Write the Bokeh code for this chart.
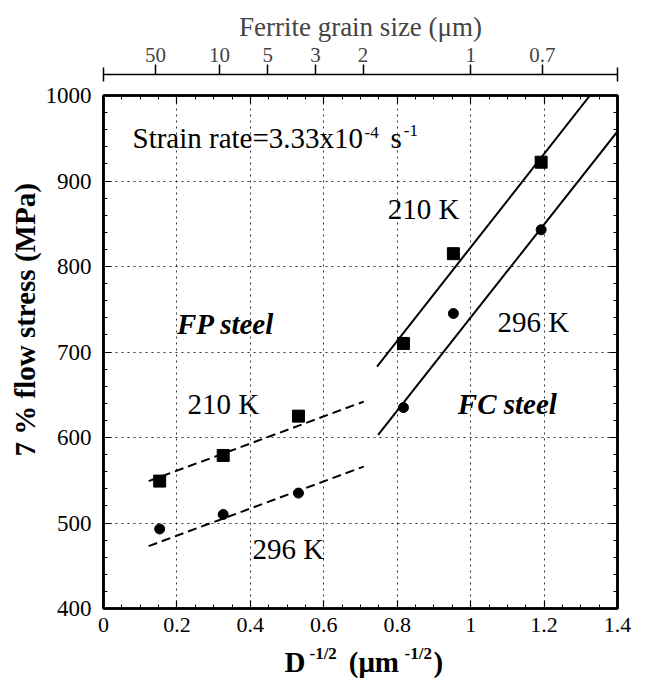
import numpy as np
from bokeh.plotting import figure
from bokeh.layouts import column
from bokeh.models import (LinearAxis, FixedTicker, Label, Range1d, Title)
from bokeh.embed import file_html
from bokeh.resources import INLINE

# ---------------- data ----------------
fp_x = [0.153, 0.326, 0.531]          # FP steel, D^-1/2
fp_210 = [549, 579, 625]               # 210 K flow stress (MPa)
fp_296 = [493, 510, 535]               # 296 K flow stress (MPa)

fc_x = [0.817, 0.953, 1.192]          # FC steel, D^-1/2
fc_210 = [710, 815, 922]
fc_296 = [635, 745, 843]

fit_fp_x = [0.123, 0.709]
fit_fp_210 = [549, 642]
fit_fp_296 = [473, 566]
fit_fc210_x = [0.745, 1.325]
fit_fc210_y = [683, 1000]
fit_fc296_x = [0.748, 1.4]
fit_fc296_y = [603, 958]

x_ticks = [0, 0.2, 0.4, 0.6, 0.8, 1.0, 1.2, 1.4]
x_tick_labels = ["0", "0.2", "0.4", "0.6", "0.8", "1", "1.2", "1.4"]
y_ticks = [400, 500, 600, 700, 800, 900, 1000]
grain_sizes = [50, 10, 5, 3, 2, 1, 0.7]
grain_labels = ["50", "10", "5", "3", "2", "1", "0.7"]

FONT = "Liberation Serif"
FW, FH = 514, 513
LEFT, RIGHT = 103, 25

xr = Range1d(0, 1.4)

# ---------------- main figure ----------------
p = figure(frame_width=FW, frame_height=FH, title=None,
           x_range=xr, y_range=Range1d(400, 1000),
           output_backend="svg", toolbar_location=None,
           x_axis_location=None, y_axis_location=None,
           min_border_left=LEFT, min_border_right=RIGHT,
           min_border_top=12, min_border_bottom=36,
           background_fill_color="white", border_fill_color="white")
p.outline_line_color = "black"
p.outline_line_width = 2.5

x_minor = [round(v, 2) for v in np.arange(0, 1.4001, 0.05)]
y_minor = list(range(400, 1001, 20))
xt = FixedTicker(ticks=x_ticks, minor_ticks=x_minor)
yt = FixedTicker(ticks=y_ticks, minor_ticks=y_minor)


def frame_axis(ticker, labels=True):
    ax = LinearAxis(ticker=ticker)
    ax.major_tick_in = 8
    ax.major_tick_out = 0
    ax.minor_tick_in = 4
    ax.minor_tick_out = 0
    ax.axis_line_width = 2.5
    ax.major_tick_line_width = 1.2
    ax.minor_tick_line_width = 1
    ax.major_label_text_font = FONT
    ax.major_label_text_font_size = "22px"
    ax.major_label_text_color = "black"
    ax.major_label_standoff = 9
    if not labels:
        ax.major_label_text_color = None
        ax.major_label_text_font_size = "0px"
        ax.major_label_standoff = 0
    return ax


bottom = frame_axis(xt)
bottom.major_label_overrides = {t: s for t, s in zip(x_ticks, x_tick_labels)}
p.add_layout(bottom, "below")

left = frame_axis(yt)
left.major_label_text_font_size = "23px"
left.major_label_standoff = 12
p.add_layout(left, "left")

p.add_layout(Title(text="7 % flow stress (MPa)", text_font=FONT,
                   text_font_size="29px", text_font_style="bold",
                   text_color="black", align="left", offset=152, standoff=3),
             "left")

p.add_layout(frame_axis(yt, labels=False), "right")
p.add_layout(frame_axis(xt, labels=False), "above")

# dotted grid at the major ticks
p.xgrid.ticker = xt
p.ygrid.ticker = yt
for g in (p.xgrid, p.ygrid):
    g.grid_line_color = "black"
    g.grid_line_dash = "2 4"
    g.grid_line_width = 1
    g.grid_line_alpha = 0.8

# fitted lines
p.line(fit_fp_x, fit_fp_210, line_color="black", line_width=2, line_dash="9 5")
p.line(fit_fp_x, fit_fp_296, line_color="black", line_width=2, line_dash="9 5")
p.line(fit_fc210_x, fit_fc210_y, line_color="black", line_width=2)
p.line(fit_fc296_x, fit_fc296_y, line_color="black", line_width=2)

# points
p.scatter(fp_x, fp_210, marker="square", size=12, color="black")
p.scatter(fc_x, fc_210, marker="square", size=12, color="black")
p.scatter(fp_x, fp_296, marker="circle", size=10, color="black")
p.scatter(fc_x, fc_296, marker="circle", size=10, color="black")


def lab(fig, x, y_base, text, size=29, style="normal", ppu=1.0):
    # y_base: text baseline; converted to the text middle (0.34 em above it)
    y_mid = y_base + 0.34 * size / ppu
    fig.add_layout(Label(x=x, y=y_mid, text=text, text_font=FONT,
                         text_font_size=f"{size}px",
                         text_font_style=style, text_color="black",
                         text_baseline="middle", text_align="left"))


PPU = FH / 600.0   # pixels per MPa in the main frame

lab(p, 0.079, 939, "Strain rate=3.33x10", ppu=PPU)
lab(p, 0.711, 950, "-4", size=17, ppu=PPU)
lab(p, 0.782, 939, "s", ppu=PPU)
lab(p, 0.818, 952, "-1", size=17, ppu=PPU)

lab(p, 0.229, 628, "210 K", ppu=PPU)
lab(p, 0.2, 721, "FP steel", style="bold italic", ppu=PPU)
lab(p, 0.406, 458, "296 K", ppu=PPU)
lab(p, 0.774, 856, "210 K", ppu=PPU)
lab(p, 1.073, 724, "296 K", ppu=PPU)
lab(p, 0.965, 628, "FC steel", style="bold italic", ppu=PPU)

# ---------------- top strip: ferrite grain size axis ----------------
p0 = figure(frame_width=FW, frame_height=9, title=None,
            x_range=xr, y_range=Range1d(0, 1),
            output_backend="svg", toolbar_location=None,
            x_axis_location=None, y_axis_location=None,
            min_border_left=LEFT, min_border_right=RIGHT,
            min_border_top=74, min_border_bottom=0,
            background_fill_color="white", border_fill_color="white")
p0.outline_line_color = None
p0.xgrid.visible = False
p0.ygrid.visible = False

grain_pos = [1.0 / np.sqrt(d) for d in grain_sizes]
grain = LinearAxis(ticker=FixedTicker(ticks=grain_pos, minor_ticks=[0, 1.4]))
grain.major_label_overrides = {t: s for t, s in zip(grain_pos, grain_labels)}
grain.major_tick_in = 0
grain.major_tick_out = 10
grain.minor_tick_in = 7
grain.minor_tick_out = 7
grain.axis_line_width = 1.5
grain.major_tick_line_width = 1.5
grain.minor_tick_line_width = 1.5
grain.major_label_text_font = FONT
grain.major_label_text_font_size = "21px"
grain.major_label_standoff = 3
grain.axis_label = "Ferrite grain size (μm)"
grain.axis_label_text_font = FONT
grain.axis_label_text_font_style = "normal"
grain.axis_label_text_font_size = "27px"
grain.axis_label_standoff = 3
p0.add_layout(grain, "above")

# ---------------- bottom strip: x-axis title with superscripts ----------------
p2 = figure(frame_width=FW, frame_height=38, title=None,
            x_range=xr, y_range=Range1d(0, 38),
            output_backend="svg", toolbar_location=None,
            x_axis_location=None, y_axis_location=None,
            min_border_left=LEFT, min_border_right=RIGHT,
            min_border_top=0, min_border_bottom=0,
            background_fill_color="white", border_fill_color="white")
p2.outline_line_color = None
p2.xgrid.visible = False
p2.ygrid.visible = False

lab(p2, 0.493, 11, "D", size=29, style="bold")
lab(p2, 0.561, 23, "-1/2", size=17, style="bold")
lab(p2, 0.668, 11, "(μm", size=29, style="bold")
lab(p2, 0.820, 23, "-1/2", size=17, style="bold")
lab(p2, 0.899, 11, ")", size=29, style="bold")

layout = column(p0, p, p2, spacing=0)
open("out.html", "w").write(file_html(layout, INLINE))
